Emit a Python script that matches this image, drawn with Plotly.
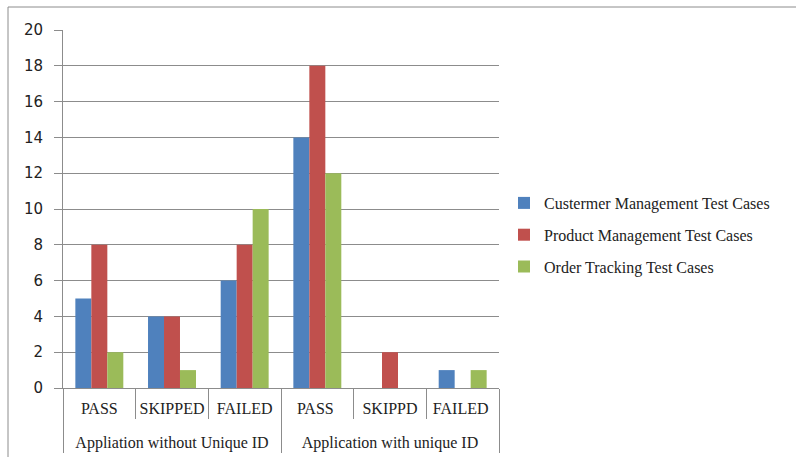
import plotly.graph_objects as go

groups = ["<br>Appliation without Unique ID"] * 3 + ["<br>Application with unique ID"] * 3
categories = ["PASS", "SKIPPED", "FAILED", "PASS ", "SKIPPD", "FAILED "]
series_names = ["Custermer Management Test Cases", "Product Management Test Cases", "Order Tracking Test Cases"]
customer = [5, 4, 6, 14, 0, 1]
product = [8, 4, 8, 18, 2, 0]
order = [2, 1, 10, 12, 0, 1]
colors = ["#4F81BD", "#C0504D", "#9BBB59"]
y_ticks = [0, 2, 4, 6, 8, 10, 12, 14, 16, 18, 20]

fig = go.Figure()
for i, (name, vals, c) in enumerate(zip(series_names, [customer, product, order], colors)):
    fig.add_trace(go.Bar(x=[groups, categories], y=vals, name=name, legendgroup=f"g{i}",
                         marker=dict(color=c, line=dict(width=0))))

L, R, T, B = 63, 297, 30, 69
W, H = 796, 457
pw, ph = W - L - R, H - T - B

fig.update_layout(
    width=W, height=H,
    margin=dict(l=L, r=R, t=T, b=B, autoexpand=False),
    paper_bgcolor="white", plot_bgcolor="white",
    barmode="group", bargap=0.34, bargroupgap=0,
    showlegend=True,
    legend=dict(x=(504 - L) / pw, y=(388 - 186) / ph, xanchor="left", yanchor="top",
                font=dict(family="Liberation Serif", size=16, color="#222"),
                tracegroupgap=8, itemwidth=30, bgcolor="rgba(0,0,0,0)"),
    xaxis=dict(type="multicategory", showgrid=False, showline=True, linecolor="#8c8c8c", linewidth=1,
               ticks="outside", tickson="boundaries", ticklen=30, tickcolor="#8c8c8c",
               showdividers=True, dividercolor="#8c8c8c", dividerwidth=1, tickangle=0,
               automargin=False, ticklabelstandoff=6,
               tickfont=dict(family="Liberation Serif", size=16, color="#222")),
    yaxis=dict(range=[0, 20], tickvals=y_ticks, showgrid=True, gridcolor="#8c8c8c", gridwidth=1,
               showline=True, linecolor="#8c8c8c", zeroline=False, automargin=False,
               ticks="outside", ticklen=8, tickcolor="#8c8c8c", ticklabelstandoff=8,
               tickfont=dict(family="DejaVu Sans", size=15, color="#222")),
)

fig.add_shape(type="rect", xref="paper", yref="paper",
              x0=(8 - L) / pw, x1=(W + 5 - L) / pw, y0=(388 - 470) / ph, y1=(388 - 7) / ph,
              line=dict(color="#8c8c8c", width=1), layer="below")

fig.write_html("out.html")
